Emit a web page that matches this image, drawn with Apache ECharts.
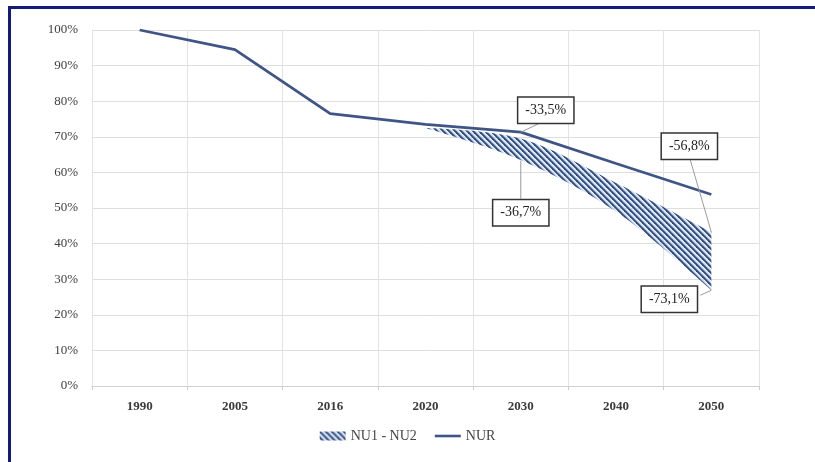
<!DOCTYPE html>
<html>
<head>
<meta charset="utf-8">
<script src="https://cdn.jsdelivr.net/npm/echarts@6/dist/echarts.min.js"></script>
<style>
  html, body { margin: 0; padding: 0; background: #fff; }
  #frame {
    position: absolute; left: 8px; top: 6px; right: 0; bottom: 0;
    border-left: 3px solid #141a7c; border-top: 3px solid #141a7c;
    pointer-events: none; z-index: 2;
  }
  #chart { position: absolute; left: 0; top: 0; width: 815px; height: 462px; }
</style>
</head>
<body>
<div id="chart"></div>
<div id="frame"></div>
<script>
const years = ['1990', '2005', '2016', '2020', '2030', '2040', '2050']
const nur = [100, 94.5, 76.5, 73.5, 71.3, 62.5, 53.8]
// band NU1 - NU2: lower edge and upper edge
const bandLow = [null, null, null, 72.5, 63.5, 49, 26.9]
const bandHigh = [null, null, null, 72.5, 69.5, 57, 43.2]
const yTicks = [0, 10, 20, 30, 40, 50, 60, 70, 80, 90, 100]

// annotation boxes
const noteText = ['-33,5%', '-36,7%', '-56,8%', '-73,1%']
const noteYear = ['2030', '2030', '2050', '2050']
const noteValue = [71.3, 63.3, 43.2, 26.9]

const serif = '"Liberation Serif", "Times New Roman", serif'

function hatch() {
  const c = document.createElement('canvas')
  c.width = 6
  c.height = 6
  const ctx = c.getContext('2d')
  const draw = (color, w, off) => {
    ctx.strokeStyle = color
    ctx.lineWidth = w
    for (let k = -1; k <= 1; k++) {
      ctx.beginPath()
      ctx.moveTo(k * 6 - 1 + off, -1)
      ctx.lineTo(k * 6 + 7 + off, 7)
      ctx.stroke()
    }
  }
  draw('#b3cbe8', 3.2, 0.8)
  draw('#30497a', 1.8, 0)
  return { image: c, repeat: 'repeat' }
}

const pattern = hatch()
const bandDiff = bandHigh.map((v, i) => v == null ? null : +(v - bandLow[i]).toFixed(2))

const chart = echarts.init(document.getElementById('chart'))

chart.setOption({
  animation: false,
  grid: { left: 92, right: 56, top: 30, bottom: 76 },
  xAxis: {
    type: 'category',
    data: years,
    boundaryGap: true,
    axisLine: { lineStyle: { color: '#d0d0d0' } },
    axisTick: { show: true, length: 4, lineStyle: { color: '#d0d0d0' } },
    axisLabel: { color: '#3a3a3a', fontFamily: serif, fontSize: 13, fontWeight: 'bold', margin: 14 },
    splitLine: { show: true, lineStyle: { color: '#e3e3e3' } }
  },
  yAxis: {
    type: 'value',
    min: yTicks[0],
    max: yTicks[yTicks.length - 1],
    interval: 10,
    axisLine: { show: true, lineStyle: { color: '#e3e3e3' } },
    axisTick: { show: false },
    axisLabel: { color: '#404040', fontFamily: serif, fontSize: 13, margin: 14, formatter: '{value}%' },
    splitLine: { lineStyle: { color: '#dedede' } }
  },
  legend: {
    bottom: 14,
    left: 'center',
    itemWidth: 26,
    itemHeight: 9,
    itemGap: 18,
    textStyle: { fontFamily: serif, fontSize: 14, color: '#444' },
    data: [
      { name: 'NU1 - NU2', icon: 'rect', itemStyle: { color: pattern } },
      { name: 'NUR', icon: 'path://M0,0 H30 V3 H0 Z' }
    ]
  },
  series: [
    {
      name: 'base',
      type: 'line',
      stack: 'band',
      data: bandLow,
      symbol: 'none',
      smooth: 0.35,
      lineStyle: { width: 0 },
      silent: true
    },
    {
      name: 'NU1 - NU2',
      type: 'line',
      stack: 'band',
      data: bandDiff,
      symbol: 'none',
      smooth: 0.35,
      lineStyle: { width: 0 },
      itemStyle: { color: '#30497a' },
      areaStyle: { color: pattern, opacity: 1 }
    },
    {
      name: 'NUR',
      type: 'line',
      data: nur,
      symbol: 'none',
      z: 5,
      lineStyle: { color: '#3f5586', width: 2.8 },
      itemStyle: { color: '#3f5586' }
    }
  ]
})

// box offsets from each anchor point, and leader start on the box
const boxOffset = [[25, -22], [0, 52], [-22, -86], [-42, 9]]
const leadFrom = [[19, -9], [0, 38], [-21, -72], [-11, 5]]

const graphics = []
noteText.forEach((t, i) => {
  const p = chart.convertToPixel({ gridIndex: 0 }, [noteYear[i], noteValue[i]])
  graphics.push({
    type: 'line',
    z: 10,
    shape: { x1: p[0] + leadFrom[i][0], y1: p[1] + leadFrom[i][1], x2: p[0], y2: p[1] },
    style: { stroke: '#9a9a9a', lineWidth: 1 }
  })
  graphics.push({
    type: 'text',
    z: 11,
    x: p[0] + boxOffset[i][0],
    y: p[1] + boxOffset[i][1],
    style: {
      text: t,
      font: '14px ' + serif,
      fill: '#222',
      align: 'center',
      verticalAlign: 'middle',
      backgroundColor: '#fff',
      borderColor: '#333',
      borderWidth: 1.5,
      padding: [6, 7, 5, 7]
    }
  })
})
chart.setOption({ graphic: graphics })
</script>
</body>
</html>
